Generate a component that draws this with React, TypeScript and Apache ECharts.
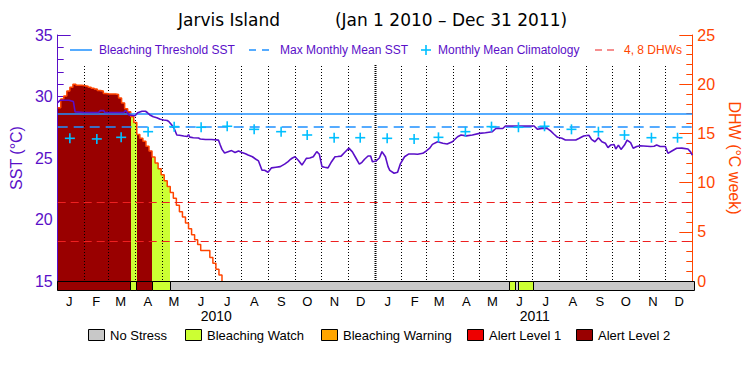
import React, { useEffect, useRef } from "react";
import * as echarts from "echarts";

// ---------- data ----------
const MONTH_LETTERS = ["J", "F", "M", "A", "M", "J", "J", "A", "S", "O", "N", "D"];
const YEARS = ["2010", "2011"];
const MONTH_LENGTHS = [31, 28, 31, 30, 31, 30, 31, 31, 30, 31, 30, 31];
const TOTAL_DAYS = 730;
const STEP_DAYS = 3.5;

// monthly mean climatology (°C), Jan..Dec
const climatology = [26.6, 26.55, 26.68, 27.14, 27.55, 27.5, 27.58, 27.33, 27.14, 26.87, 26.65, 26.65];
const MMM = 27.58;
const BLEACHING_THRESHOLD = 28.58;
const DHW_LEVELS = [4, 8];

// degree heating weeks, twice-weekly steps from Jan 1 2010
const dhwValues = [
  17.6, 18.5, 18.8, 19.3, 19.7, 20.0, 19.9, 19.9, 19.85, 19.8,
  19.7, 19.6, 19.5, 19.35, 19.3, 19.05, 19.0, 19.0, 19.0, 18.95,
  18.6, 18.1, 17.5, 17.2, 16.7, 16.1, 14.9, 14.5, 14.2, 13.7,
  13.2, 12.6, 12.0, 11.4, 10.8, 10.2, 9.6, 9.0, 8.4, 7.7,
  7.05, 6.5, 5.9, 5.3, 4.7, 4.2, 3.7, 3.1, 3.1, 3.1,
  2.4, 1.8, 1.2, 0.6, 0,
];

// stress level runs: [first step, end step (exclusive), level]
// 0 no stress, 1 watch, 2 warning, 3 alert 1, 4 alert 2
const statusRuns = [
  [0, 24, 4], [24, 26, 1], [26, 31, 4], [31, 37, 1], [37, 148, 0],
  [148, 150, 1], [150, 151, 0], [151, 156, 1], [156, 209, 0],
];

// SST [day since Jan 1 2010, °C]
const sstSeries = [
  [0, 29.5], [3, 29.7], [13, 29.7], [18, 29.6], [20, 28.75], [30, 28.7], [47, 28.7], [49, 28.85],
  [53, 28.85], [54, 28.7], [76, 28.7], [78, 28.87], [80, 28.7], [82, 28.5], [89, 28.44], [92, 28.68],
  [97, 28.8], [101, 28.8], [103, 28.7], [106, 28.5], [110, 28.35], [114, 28.28], [118, 28.15],
  [122, 28.09], [126, 28.05], [128, 27.95], [131, 27.7], [134, 27.4], [137, 26.87], [140, 26.85],
  [145, 26.79], [149, 26.75], [150.5, 26.9], [152, 26.7], [156, 26.65], [162, 26.62], [164, 26.55],
  [170, 26.5], [177, 26.5], [185, 26.45], [187, 26.06], [189, 25.7], [192, 25.4], [196, 25.5],
  [200, 25.6], [204, 25.45], [208, 25.57], [212, 25.45], [216, 25.35], [219, 25.24], [224, 25.1],
  [228, 24.9], [231, 24.76], [235, 24.0], [238, 24.0], [242, 23.84], [246, 24.2], [251, 24.25],
  [256, 24.3], [261, 24.5], [265, 24.7], [267, 24.84], [270, 25.0], [273, 25.1], [277, 24.8],
  [281, 24.43], [284, 24.75], [286, 24.97], [290, 25.0], [294, 25.1], [298, 25.52], [301, 25.3],
  [304, 24.3], [307, 24.25], [311, 24.2], [315, 24.7], [319, 25.1], [322, 25.12], [326, 25.15],
  [330, 25.45], [335, 25.8], [339, 25.5], [343, 25.0], [347, 24.5], [350, 24.65], [353, 24.9],
  [357, 25.16], [360, 25.16], [362, 24.7], [366, 24.75], [370, 25.0], [373, 25.52], [377, 25.1],
  [380, 24.3], [382, 24.0], [387, 23.76], [391, 23.84], [394, 24.5], [399, 25.1], [404, 25.33],
  [410, 25.33], [414, 25.3], [420, 25.38], [424, 25.57], [428, 25.8], [431, 26.11], [437, 26.32],
  [443, 26.2], [448, 26.14], [454, 26.32], [460, 26.73], [464, 26.87], [470, 26.8], [477, 26.87],
  [485, 27.0], [492, 27.05], [500, 27.14], [504, 27.4], [512, 27.4], [515, 27.6], [548, 27.6],
  [552, 27.33], [557, 27.41], [563, 27.41], [567, 27.2], [571, 26.93], [575, 26.68], [580, 26.6],
  [584, 26.46], [596, 26.46], [600, 26.6], [605, 26.79], [611, 26.85], [614, 26.52], [618, 26.32],
  [622, 26.65], [626, 26.32], [630, 26.2], [633, 25.84], [636, 26.05], [640, 26.1], [642, 25.73],
  [645, 26.05], [648, 25.7], [652, 26.05], [655, 26.46], [659, 26.25], [662, 25.79], [666, 25.93],
  [670, 26.0], [682, 25.93], [686, 25.95], [689, 26.05], [693, 25.93], [699, 25.93], [702, 25.38],
  [706, 25.55], [712, 25.79], [718, 25.8], [725, 25.73], [728, 25.5], [730, 25.24],
];

// ---------- styles ----------
const PURPLE = "#5a0fc8";
const ORANGE_RED = "#ff4500";
const BLUE = "#1e90ff";
const CYAN = "#00bfff";
const DHW_RED = "#ee2020";
const LEVEL_COLORS = ["#c8c8c8", "#ccff33", "#ffa500", "#ee0000", "#990000"];
const LEGEND_NAMES = ["No Stress", "Bleaching Watch", "Bleaching Warning", "Alert Level 1", "Alert Level 2"];
const LEGEND_X = [88, 185, 321, 467, 576];

// ---------- derived ----------
const monthStarts: number[] = [];
{
  let d = 0;
  for (let y = 0; y < 2; y++) {
    for (let m = 0; m < 12; m++) {
      monthStarts.push(d);
      d += MONTH_LENGTHS[m];
    }
  }
}
const midMonths = monthStarts.map((s) => s + 14);
const yearMids = [182.5, 547.5];

function levelAt(k: number) {
  for (const r of statusRuns) if (k >= r[0] && k < r[1]) return r[2];
  return 0;
}

const fillData = dhwValues
  .map((v, k) => [k * STEP_DAYS, (k + 1) * STEP_DAYS, v, levelAt(k)])
  .filter((d) => d[3] > 0 && d[2] > 0);
const statusData = statusRuns.map((r) => [r[0] * STEP_DAYS, Math.min(r[1] * STEP_DAYS, TOTAL_DAYS), r[2]]);
const dhwLineData = dhwValues.map((v, k) => [k * STEP_DAYS, v]);
const climData = monthStarts.map((s, i) => [s + 14, climatology[i % 12]]);
const dividerData = monthStarts.filter((s) => s > 0).map((s) => [s]);

export default function App() {
  const ref = useRef<HTMLDivElement>(null);
  useEffect(() => {
    if (!ref.current) return;
    const chart = echarts.init(ref.current, null, { renderer: "svg" });
    const font = "Liberation Sans, Arial, sans-serif";

    const legendItems: any[] = [];
    LEGEND_NAMES.forEach((name, i) => {
      legendItems.push({
        type: "rect",
        shape: { x: LEGEND_X[i] + 0.5, y: 329.5, width: 16, height: 11 },
        style: { fill: LEVEL_COLORS[i], stroke: "#000", lineWidth: 1 },
      });
      legendItems.push({
        type: "text",
        x: LEGEND_X[i] + 22,
        y: 335,
        style: { text: name, fill: "#000", font: `13px ${font}`, verticalAlign: "middle" },
      });
    });

    const option: any = {
      animation: false,
      textStyle: { fontFamily: font },
      grid: [
        { left: 57, right: 56, top: 35, height: 246 },
        { left: 57, right: 56, top: 281, height: 9 },
      ],
      xAxis: [
        {
          type: "value", gridIndex: 0, min: 0, max: TOTAL_DAYS, position: "top",
          axisLine: { show: true, lineStyle: { color: "#000", width: 1 } },
          axisTick: { show: false }, axisLabel: { show: false }, splitLine: { show: false },
        },
        {
          type: "value", gridIndex: 1, min: 0, max: TOTAL_DAYS, position: "bottom",
          axisLine: { show: false }, axisTick: { show: false }, splitLine: { show: false },
          axisLabel: {
            customValues: midMonths, margin: 5, fontSize: 13, color: "#000",
            formatter: (v: number) => {
              const i = midMonths.findIndex((m) => Math.abs(m - v) < 0.01);
              return i >= 0 ? MONTH_LETTERS[i % 12] : "";
            },
          },
        },
        {
          type: "value", gridIndex: 1, min: 0, max: TOTAL_DAYS, position: "bottom",
          axisLine: { show: false }, axisTick: { show: false }, splitLine: { show: false },
          axisLabel: {
            customValues: yearMids, margin: 19, fontSize: 14, color: "#000",
            formatter: (v: number) => (v < 365 ? YEARS[0] : YEARS[1]),
          },
        },
      ],
      yAxis: [
        {
          type: "value", gridIndex: 0, min: 15, max: 35, interval: 5, position: "left",
          axisLine: { show: true, lineStyle: { color: PURPLE, width: 1 } },
          axisTick: { show: true, inside: true, length: 13, lineStyle: { color: PURPLE } },
          minorTick: { show: true, splitNumber: 5, length: 6, lineStyle: { color: PURPLE } },
          axisLabel: { color: PURPLE, fontSize: 16, margin: 5 },
          splitLine: { show: false },
          name: "SST (°C)", nameLocation: "middle", nameRotate: 90, nameGap: 31,
          nameTextStyle: { color: PURPLE, fontSize: 16 },
        },
        {
          type: "value", gridIndex: 0, min: 0, max: 25, interval: 5, position: "right",
          axisLine: { show: true, lineStyle: { color: ORANGE_RED, width: 1 } },
          axisTick: { show: true, inside: true, length: 13, lineStyle: { color: ORANGE_RED } },
          minorTick: { show: true, splitNumber: 5, length: 6, lineStyle: { color: ORANGE_RED } },
          axisLabel: { color: ORANGE_RED, fontSize: 16, margin: 5 },
          splitLine: { show: false },
          name: "DHW (°C week)", nameLocation: "middle", nameRotate: -90, nameGap: 30,
          nameTextStyle: { color: ORANGE_RED, fontSize: 16 },
        },
        { type: "value", gridIndex: 1, min: 0, max: 1, show: false },
      ],
      series: [
        {
          type: "custom", name: "stressFill", xAxisIndex: 0, yAxisIndex: 1, z: 1,
          data: fillData, encode: { x: [0, 1], y: 2 },
          renderItem: (_p: any, api: any) => {
            const a = api.coord([api.value(0), 0]);
            const b = api.coord([api.value(1), api.value(2)]);
            const x0 = Math.round(a[0]);
            const x1 = Math.round(b[0]);
            return {
              type: "rect",
              shape: { x: x0, y: b[1], width: x1 - x0, height: a[1] - b[1] },
              style: { fill: LEVEL_COLORS[api.value(3)] },
            };
          },
        },
        {
          type: "custom", name: "dividers", xAxisIndex: 0, yAxisIndex: 0, z: 2,
          data: dividerData, encode: { x: 0 },
          renderItem: (_p: any, api: any) => {
            const d = api.value(0);
            const a = api.coord([d, 15]);
            const b = api.coord([d, 32.6]);
            const x = Math.floor(a[0]);
            const yearLine = d === 365;
            const step = yearLine ? 2 : 3;
            const children: any[] = [];
            for (let y = Math.round(a[1]) - 2; y > b[1]; y -= step) {
              children.push({
                type: "rect",
                shape: { x: yearLine ? x - 0.5 : x, y, width: yearLine ? 2 : 1, height: 1 },
                style: { fill: "#000" },
              });
            }
            return { type: "group", children };
          },
        },
        {
          type: "line", name: "DHW", xAxisIndex: 0, yAxisIndex: 1, z: 4,
          data: dhwLineData, step: "end", showSymbol: false, symbol: "none",
          lineStyle: { color: ORANGE_RED, width: 1.5 },
          markLine: {
            silent: true, symbol: "none", label: { show: false },
            lineStyle: { color: DHW_RED, type: [8, 5], width: 1.2 },
            data: DHW_LEVELS.map((v) => ({ yAxis: v })),
          },
        },
        {
          type: "line", name: "SST", xAxisIndex: 0, yAxisIndex: 0, z: 6,
          data: sstSeries, showSymbol: false, symbol: "none",
          lineStyle: { color: PURPLE, width: 1.6 },
          markLine: {
            silent: true, symbol: "none", label: { show: false },
            data: [
              { yAxis: BLEACHING_THRESHOLD, lineStyle: { color: BLUE, type: "solid", width: 1.5 } },
              { yAxis: MMM, lineStyle: { color: BLUE, type: [10, 6], width: 1.5 } },
            ],
          },
        },
        {
          type: "custom", name: "climatology", xAxisIndex: 0, yAxisIndex: 0, z: 7,
          data: climData, encode: { x: 0, y: 1 },
          renderItem: (_p: any, api: any) => {
            const c = api.coord([api.value(0), api.value(1)]);
            const h = 5;
            return {
              type: "group",
              children: [
                { type: "line", shape: { x1: c[0] - h, y1: c[1], x2: c[0] + h, y2: c[1] }, style: { stroke: CYAN, lineWidth: 1.6 } },
                { type: "line", shape: { x1: c[0], y1: c[1] - h, x2: c[0], y2: c[1] + h }, style: { stroke: CYAN, lineWidth: 1.6 } },
              ],
            };
          },
        },
        {
          type: "custom", name: "status", xAxisIndex: 1, yAxisIndex: 2, z: 3,
          data: statusData, encode: { x: [0, 1] },
          renderItem: (_p: any, api: any) => {
            const a = api.coord([api.value(0), 0]);
            const b = api.coord([api.value(1), 1]);
            const x0 = Math.round(a[0]) + 0.5;
            const x1 = Math.round(b[0]) + 0.5;
            const y0 = Math.round(b[1]) + 0.5;
            const y1 = Math.round(a[1]) + 0.5;
            return {
              type: "rect",
              shape: { x: x0, y: y0, width: x1 - x0, height: y1 - y0 },
              style: { fill: LEVEL_COLORS[api.value(2)], stroke: "#000", lineWidth: 1 },
            };
          },
        },
      ],
      graphic: [
        {
          type: "text", x: 229, y: 20,
          style: { text: "Jarvis Island", fill: "#000", font: "17px DejaVu Sans, sans-serif", align: "center", verticalAlign: "middle" },
        },
        {
          type: "text", x: 451, y: 20,
          style: { text: "(Jan 1 2010 – Dec 31 2011)", fill: "#000", font: "17px DejaVu Sans, sans-serif", align: "center", verticalAlign: "middle" },
        },
        { type: "line", shape: { x1: 70, y1: 50, x2: 92, y2: 50 }, style: { stroke: BLUE, lineWidth: 1.5 } },
        { type: "text", x: 99, y: 50, style: { text: "Bleaching Threshold SST", fill: PURPLE, font: `12px ${font}`, verticalAlign: "middle" } },
        { type: "line", shape: { x1: 249, y1: 50, x2: 273, y2: 50 }, style: { stroke: BLUE, lineWidth: 1.5, lineDash: [7, 6] } },
        { type: "text", x: 280, y: 50, style: { text: "Max Monthly Mean SST", fill: PURPLE, font: `12px ${font}`, verticalAlign: "middle" } },
        { type: "line", shape: { x1: 421, y1: 50, x2: 431, y2: 50 }, style: { stroke: CYAN, lineWidth: 1.6 } },
        { type: "line", shape: { x1: 426, y1: 45, x2: 426, y2: 55 }, style: { stroke: CYAN, lineWidth: 1.6 } },
        { type: "text", x: 438, y: 50, style: { text: "Monthly Mean Climatology", fill: PURPLE, font: `12px ${font}`, verticalAlign: "middle" } },
        { type: "line", shape: { x1: 595, y1: 50, x2: 617, y2: 50 }, style: { stroke: DHW_RED, lineWidth: 1.2, lineDash: [7, 5] } },
        { type: "text", x: 624, y: 50, style: { text: "4, 8 DHWs", fill: ORANGE_RED, font: `12px ${font}`, verticalAlign: "middle" } },
        ...legendItems,
      ],
    };
    chart.setOption(option);
    return () => chart.dispose();
  }, []);
  return (
    <div
      ref={ref}
      style={{ position: "fixed", left: 0, top: 0, width: 750, height: 375, background: "#fff" }}
    />
  );
}
